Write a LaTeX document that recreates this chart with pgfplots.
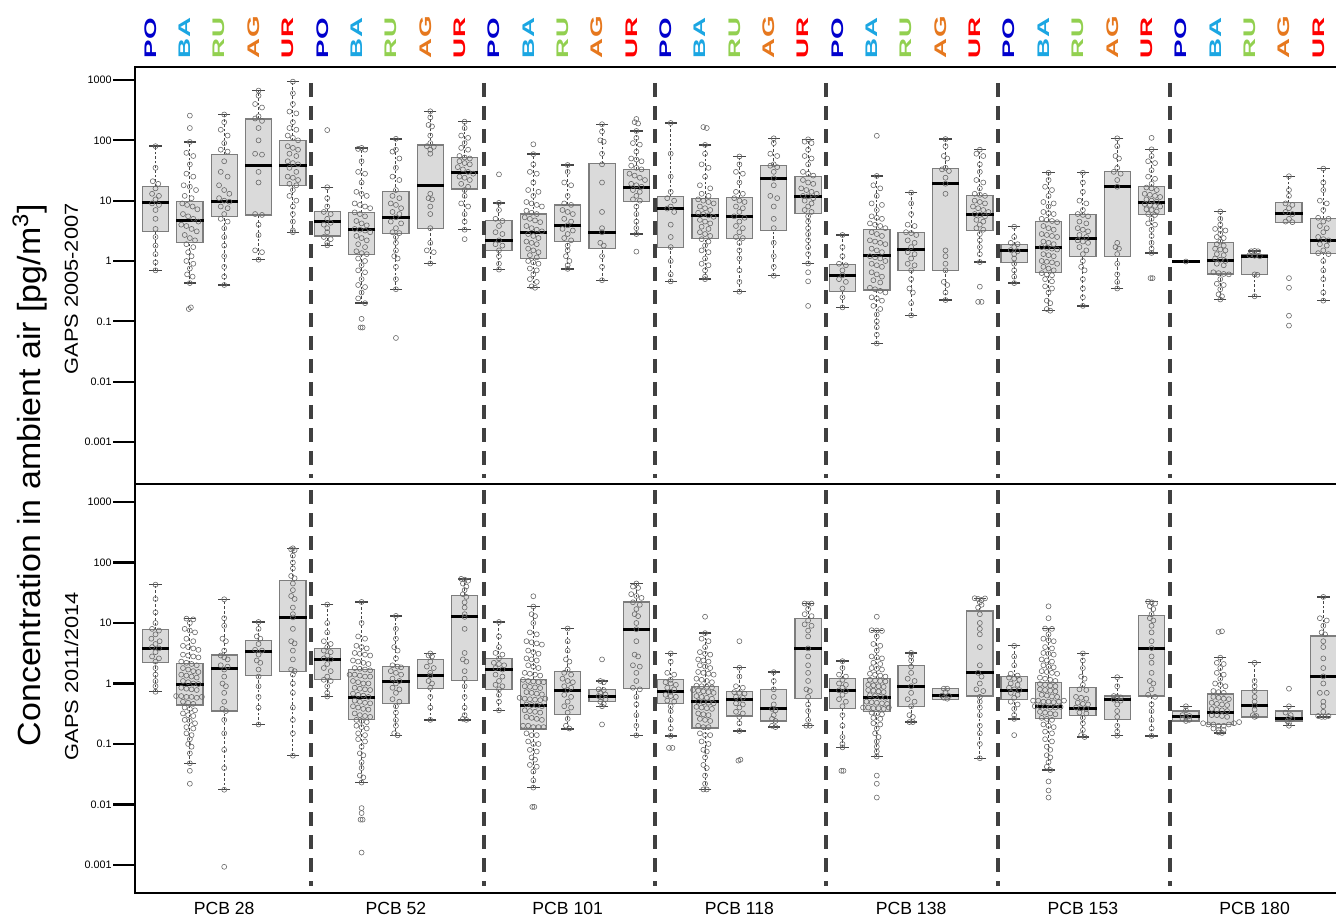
\documentclass[border=0pt]{standalone}
\usepackage{graphicx}
\usepackage{pgfplots}
\pgfplotsset{compat=1.18}
\usepackage{fontspec}
\setmainfont{Liberation Sans}
\setsansfont{Liberation Sans}
\definecolor{cPO}{RGB}{0,0,204}
\definecolor{cBA}{RGB}{27,166,226}
\definecolor{cRU}{RGB}{146,208,80}
\definecolor{cAG}{RGB}{230,120,30}
\definecolor{cUR}{RGB}{255,0,0}
\definecolor{boxfill}{RGB}{218,218,218}
\definecolor{boxedge}{RGB}{125,125,125}
\definecolor{whiskc}{RGB}{70,70,70}
\definecolor{ptcol}{RGB}{105,105,105}
\definecolor{sepcol}{RGB}{64,64,64}
\tikzset{mysep/.style={draw=sepcol, line width=2pt, dash pattern=on 7pt off 4.5pt}}

% one box: position, lower whisker, lower quartile, median, upper quartile, upper whisker
\newcommand{\bx}[6]{%
  \addplot[draw=whiskc, line width=0.5pt, dash pattern=on 1.3pt off 1pt, mark=none] coordinates {(#1,#2)(#1,#3)};
  \addplot[draw=whiskc, line width=0.5pt, dash pattern=on 1.3pt off 1pt, mark=none] coordinates {(#1,#5)(#1,#6)};
  \addplot[only marks, mark=-, mark size=3.1pt, mark options={draw=whiskc, line width=0.7pt}] coordinates {(#1,#2)(#1,#6)};
  \addplot[draw=boxedge, line width=13.7pt, mark=none] coordinates {(#1,#3)(#1,#5)};
  \addplot[draw=boxfill, line width=12.5pt, mark=none] coordinates {(#1,#3)(#1,#5)};
  \addplot[only marks, mark=-, mark size=6.85pt, mark options={draw=boxedge, line width=0.6pt}] coordinates {(#1,#3)(#1,#5)};
  \addplot[only marks, mark=-, mark size=6.85pt, mark options={draw=black, line width=1.5pt}] coordinates {(#1,#4)};
}
\newcommand{\catlab}[2]{\textcolor{#1}{\scalebox{1.65}[1]{#2}}}

\begin{document}
\begin{tikzpicture}
\path[use as bounding box] (0,0) rectangle (668pt,-460pt);

% ---------------- top panel: GAPS 2005-2007 ----------------
\begin{axis}[at={(67.5pt,-33.5pt)}, anchor=north west,
  scale only axis, width=600.5pt, height=208.5pt,
  xmin=-0.597, xmax=34.37, ymode=log, ymin=2.01e-4, ymax=1643,
  yminorticks=false, clip mode=individual,
  axis line style={draw=none},
  ytick={0.001,0.01,0.1,1,10,100,1000},
  yticklabels={0.001,0.01,0.1,1,10,100,1000},
  ytick pos=left, tick align=outside,
  ytick style={line width=1.1pt, black},
  major tick length=11pt,
  yticklabel style={font=\fontsize{5.4}{6}\selectfont, inner sep=0.5pt},
  xtick style={draw=none},
  xtick={0,...,34}, xticklabel pos=upper,
  xticklabel={\pgfmathparse{int(mod(round(\tick),5))}%
    \ifcase\pgfmathresult\relax\catlab{cPO}{PO}\or\catlab{cBA}{BA}\or\catlab{cRU}{RU}\or\catlab{cAG}{AG}\or\catlab{cUR}{UR}\fi},
  xticklabel style={rotate=90, anchor=west, inner sep=0pt, xshift=-6.7pt, yshift=2.5pt,
    font=\bfseries\fontsize{8.4}{9}\selectfont},
]
\bx{0}{0.70}{3.1}{9.4}{17.3}{80}
\bx{1}{0.43}{2.04}{4.7}{9.6}{94}
\bx{2}{0.40}{5.5}{9.6}{59}{268}
\bx{3}{1.05}{5.8}{37.6}{226}{668}
\bx{4}{3.0}{17.7}{39}{100}{940}
\bx{5}{1.82}{2.6}{4.5}{6.7}{16.7}
\bx{6}{0.20}{1.29}{3.3}{6.4}{75}
\bx{7}{0.34}{2.84}{5.3}{14.1}{106}
\bx{8}{0.91}{3.5}{17.7}{84}{303}
\bx{9}{3.3}{15.6}{29.6}{52}{204}
\bx{10}{0.72}{1.47}{2.17}{4.7}{9.2}
\bx{11}{0.36}{1.11}{3.0}{6.0}{59}
\bx{12}{0.74}{2.12}{3.9}{8.5}{39}
\bx{13}{0.48}{1.62}{3.0}{41.7}{185}
\bx{14}{2.8}{9.8}{16.7}{33}{143}
\bx{15}{0.46}{1.69}{7.4}{11.8}{194}
\bx{16}{0.50}{2.38}{5.7}{11}{84}
\bx{17}{0.31}{2.38}{5.5}{11.4}{54}
\bx{18}{0.57}{3.2}{23.5}{38}{108}
\bx{19}{0.91}{6.1}{11.8}{25.4}{104}
\bx{20}{0.17}{0.31}{0.58}{0.87}{2.7}
\bx{21}{0.043}{0.33}{1.21}{3.3}{25.7}
\bx{22}{0.126}{0.69}{1.56}{3.0}{13.6}
\bx{23}{0.225}{0.69}{19.1}{34}{105}
\bx{24}{0.96}{3.2}{5.8}{12.1}{70}
\bx{25}{0.43}{0.94}{1.52}{1.89}{3.7}
\bx{26}{0.15}{0.64}{1.69}{4.5}{29}
\bx{27}{0.18}{1.18}{2.4}{5.9}{29}
\bx{28}{0.35}{1.18}{16.9}{30.7}{108}
\bx{29}{1.36}{5.9}{9.4}{17.3}{71}
\bx{30}{0.98}{0.98}{0.98}{0.98}{0.98}
\bx{31}{0.23}{0.61}{1.01}{2.0}{6.6}
\bx{32}{0.26}{0.59}{1.2}{1.26}{1.47}
\bx{33}{4.4}{4.4}{6.2}{9.2}{25.4}
\bx{34}{0.22}{1.32}{2.2}{5.0}{34}
\addplot[only marks, mark=o, mark size=1.25pt, mark options={draw=ptcol, line width=0.3pt, fill=none}] coordinates {
(0,80)(0,35)(-0.08,21)(0.08,19)(0,16)(-0.1,13)(0.1,12)(0,10.5)(-0.1,9)(0.1,8.5)(0,7)(0,5)(0,3.4)(0,2.5)(0,1.8)(0,1.3)(0,0.95)(0,0.7)
(1,257)(1,160)(1,94)(0.9,62)(1.1,55)(1,40)(0.9,28)(1.1,25)(0.82,18)(1,17)(1.18,15)(0.85,12)(1.05,11)(0.78,9)(0.92,8.5)(1.08,8)(1.22,7.2)(0.8,6)(0.95,5.5)(1.1,5)(1.25,4.5)(0.75,4)(0.9,3.8)(1.05,3.4)(1.2,3.1)(0.85,2.7)(1,2.4)(1.15,2.2)(0.9,1.9)(1.1,1.7)(0.95,1.4)(1.05,1.2)(0.9,1)(1.1,0.9)(1,0.75)(0.92,0.6)(1.08,0.55)(1,0.43)(0.97,0.16)(1.03,0.17)
(2,268)(2,200)(1.9,150)(2.1,120)(2,90)(1.9,70)(2.1,65)(2,45)(1.9,30)(2.1,25)(1.85,18)(2,15)(2.15,13)(1.85,11)(2,10)(2.15,9.6)(1.9,8)(2.1,7.5)(2,6)(1.9,5)(2.1,4.5)(2,3.5)(2,2.5)(2,1.8)(2,1.2)(2,0.8)(2,0.55)(2,0.4)
(3,668)(3,550)(2.9,400)(3.1,350)(3,250)(2.9,230)(3.1,210)(3,160)(3,100)(2.9,60)(3.1,58)(3,30)(3,20)(2.9,6)(3.1,5.8)(3,4)(3,2.7)(2.9,1.5)(3.1,1.4)(3,1.05)
(4,940)(4,600)(4,400)(3.9,300)(4.1,280)(4,200)(3.9,160)(4.1,150)(3.85,120)(4,110)(4.15,100)(3.85,80)(4,75)(4.15,70)(3.9,60)(4.1,55)(3.85,45)(4,42)(4.15,40)(3.9,35)(4.1,30)(3.85,25)(4,24)(4.15,22)(3.9,19)(4.1,18)(4,15)(3.9,12)(4.1,10)(4,8)(4,6)(4,4.5)(4,3.2)(4,3)
(5,148)(5,16.7)(5,11)(5,8)(4.9,6.5)(5.1,6)(5,5)(5.1,4.3)(4.9,4)(5,3.5)(5,3)(4.9,2.5)(5.1,2.3)(5,2)(5,1.82)
(6,75)(5.9,72)(6.1,70)(6,45)(5.9,30)(6.1,28)(6,20)(5.85,14)(6,13)(6.15,12)(5.8,9)(5.95,8.5)(6.1,8)(6.25,7.5)(5.8,6.4)(5.95,6)(6.1,5.5)(5.85,4.6)(6,4.2)(6.15,3.9)(5.8,3.4)(5.95,3.3)(6.1,3.2)(6.25,3)(5.85,2.6)(6,2.4)(6.15,2.2)(5.9,1.9)(6.1,1.7)(5.85,1.45)(6,1.35)(6.15,1.3)(5.9,1.1)(6.1,1)(6,0.85)(5.9,0.7)(6.1,0.65)(6,0.5)(5.9,0.4)(6.1,0.37)(6,0.3)(5.9,0.24)(6.1,0.2)(6,0.11)(5.97,0.079)(6.03,0.079)
(7,106)(7,70)(6.9,65)(7.1,50)(7,35)(6.9,25)(7.1,22)(7,15)(6.9,12)(7.1,11)(6.85,9)(7,8.5)(7.15,7.5)(6.9,6.5)(7.1,6)(7,5.3)(6.85,4.5)(7.15,4.2)(7,3.5)(6.9,3)(7.1,2.9)(7,2.5)(7,2)(7,1.5)(6.95,1.2)(7.05,1.1)(7,0.8)(7,0.5)(7,0.34)(7,0.053)
(8,303)(8,240)(7.95,180)(8.05,170)(8,120)(8,90)(7.9,80)(8.1,78)(8,70)(8,60)(8,13)(7.95,11)(8.05,10.5)(8,8)(8,6)(8,3.5)(8,2)(7.9,1.5)(8.1,1.4)(8,0.91)
(9,204)(9,160)(8.9,120)(9.1,110)(9,90)(8.9,75)(9.1,70)(8.85,55)(9,52)(9.15,50)(8.85,45)(9,42)(9.15,40)(8.8,36)(8.95,33)(9.1,30)(9.25,28)(8.85,25)(9,24)(9.15,22)(8.9,19)(9.1,17)(9,15)(9,12)(8.9,9)(9.1,8)(9,6)(9,4.5)(9,3.3)(9,2.3)
(10,27.3)(10,9.2)(10,7)(9.9,5)(10.1,4.6)(10,3.8)(9.9,3)(10.1,2.8)(10,2.2)(9.9,1.9)(10.1,1.8)(10,1.5)(10,1.2)(10,0.9)(10,0.72)
(11,86)(11,59)(11,40)(10.9,30)(11.1,28)(11,20)(10.85,15)(11.15,14)(11,12)(10.8,9.5)(10.95,9)(11.1,8.5)(11.25,8)(10.8,6.8)(10.95,6.3)(11.1,6)(10.75,5.3)(10.9,5)(11.05,4.7)(11.2,4.4)(10.8,3.8)(10.95,3.5)(11.1,3.3)(11.25,3.1)(10.85,2.8)(11,2.6)(11.15,2.4)(10.8,2.1)(10.95,2)(11.1,1.9)(10.85,1.6)(11,1.5)(11.15,1.4)(10.9,1.25)(11.1,1.15)(10.85,1)(11,0.95)(11.15,0.9)(10.9,0.75)(11.1,0.7)(11,0.6)(10.9,0.5)(11.1,0.45)(10.95,0.38)(11.05,0.36)
(12,39)(12,30)(11.9,20)(12.1,18)(12,12)(11.9,9)(12.1,8.5)(11.85,7)(12,6.5)(12.15,6)(11.9,5)(12.1,4.5)(12,3.9)(11.85,3.4)(12.15,3.2)(12,2.8)(11.9,2.4)(12.1,2.2)(12,1.8)(12,1.5)(11.95,1.2)(12.05,1)(12,0.85)(12,0.74)
(13,185)(13,140)(12.95,100)(13.05,95)(13,60)(13,40)(13,20)(13,6.5)(13,3.5)(13,3)(12.95,2)(13.05,1.8)(13,1.2)(13,0.8)(13,0.48)
(14,226)(13.95,200)(14.05,190)(14,143)(14,110)(13.9,90)(14.1,85)(14,65)(13.85,50)(14,48)(14.15,45)(13.85,38)(14,35)(14.15,33)(13.8,28)(13.95,26)(14.1,24)(14.25,22)(13.85,19)(14,18)(14.15,17)(13.9,15)(14.1,14)(14,12)(13.9,10.5)(14.1,10)(14,8)(14,6)(14,4.5)(14,3.5)(14,2.8)(14,1.43)
(15,194)(15,60)(15,25)(15,14)(14.9,11)(15.1,10)(15,8)(14.9,7.4)(15.1,6.5)(15,4)(15,2.5)(15,1.7)(15,1)(15,0.6)(15,0.46)
(15.95,166)(16.05,160)(16,84)(16,60)(15.9,40)(16.1,35)(16,25)(15.85,18)(16.15,16)(15.9,13)(16.1,12)(15.8,10.5)(15.95,10)(16.1,9.5)(16.25,9)(15.85,8)(16,7.5)(16.15,7)(15.8,6.3)(15.95,6)(16.1,5.7)(16.25,5.4)(15.85,4.8)(16,4.5)(16.15,4.2)(15.9,3.7)(16.1,3.4)(15.85,3)(16,2.8)(16.15,2.6)(15.9,2.3)(16.1,2.1)(16,1.8)(15.9,1.5)(16.1,1.4)(16,1.1)(15.9,0.9)(16.1,0.85)(16,0.7)(16,0.55)(16,0.5)
(17,54)(17,40)(16.9,30)(17.1,28)(17,20)(16.9,14)(17.1,13)(16.85,11)(17,10)(17.15,9.5)(16.9,8)(17.1,7.5)(17,6.5)(16.85,5.5)(17.15,5.2)(17,4.5)(16.9,3.8)(17.1,3.5)(17,3)(16.9,2.5)(17.1,2.4)(17,2)(17,1.5)(17,1.1)(17,0.7)(17,0.45)(17,0.31)
(18,108)(18,90)(17.9,60)(18.1,55)(18,40)(17.9,38)(18.1,36)(18,30)(18,23.5)(18,18)(17.9,12)(18.1,11)(18,8)(18,5)(18,3.5)(18,2)(18,1.2)(18,0.8)(18,0.57)
(19,104)(18.9,95)(19.1,90)(19,70)(18.9,55)(19.1,50)(19,40)(18.85,30)(19,28)(19.15,26)(18.85,22)(19,20)(19.15,19)(18.8,16)(18.95,15)(19.1,14)(19.25,13)(18.85,12)(19,11.8)(19.15,11)(18.9,10)(19.1,9)(19,8)(18.9,7)(19.1,6.5)(19,5.5)(19,4.5)(19,3.5)(19,2.8)(19,2.2)(19,1.7)(19,1.3)(19,0.91)(19,0.65)(19,0.46)(19,0.18)
(20,2.7)(20,1.7)(20,1.2)(19.9,0.9)(20.1,0.85)(20,0.7)(20,0.58)(19.9,0.5)(20.1,0.45)(20,0.35)(20,0.25)(20,0.17)
(21,119)(21,25.7)(20.9,18)(21.1,16)(21,12)(20.85,9)(21.15,8.5)(21,7)(20.85,5.5)(21,5.2)(21.15,5)(20.8,4.2)(20.95,4)(21.1,3.8)(21.25,3.5)(20.85,3)(21,2.8)(21.15,2.6)(20.8,2.2)(20.95,2.1)(21.1,2)(21.25,1.9)(20.85,1.6)(21,1.5)(21.15,1.4)(20.8,1.2)(20.95,1.15)(21.1,1.1)(21.25,1)(20.85,0.9)(21,0.85)(21.15,0.8)(20.85,0.65)(21,0.6)(21.15,0.55)(20.9,0.48)(21.1,0.44)(20.8,0.36)(20.95,0.34)(21.1,0.32)(21.25,0.3)(20.85,0.25)(21,0.24)(21.15,0.22)(20.9,0.18)(21.1,0.16)(21,0.13)(21,0.1)(21,0.08)(21,0.06)(21,0.043)
(22,13.6)(22,9)(22,6)(21.9,4)(22.1,3.8)(21.85,3)(22,2.9)(22.15,2.7)(21.9,2.2)(22.1,2)(22,1.7)(21.9,1.4)(22.1,1.3)(22,1.1)(21.9,0.9)(22.1,0.85)(22,0.7)(22,0.5)(21.95,0.35)(22.05,0.3)(22,0.2)(22,0.126)
(23,105)(23,80)(22.95,55)(23.05,50)(23,35)(22.9,33)(23.1,31)(23,24)(23,19.1)(23,13)(23,1.5)(23,1.2)(23,0.9)(23,0.7)(22.95,0.45)(23.05,0.4)(23,0.3)(23,0.225)
(24,70)(23.9,60)(24.1,55)(24,40)(24,30)(23.9,22)(24.1,20)(24,16)(23.85,13)(24,12.5)(24.15,12)(23.85,10)(24,9.5)(24.15,9)(23.8,8)(23.95,7.5)(24.1,7)(24.25,6.5)(23.85,6)(24,5.8)(24.15,5.5)(23.9,4.8)(24.1,4.5)(24,4)(23.9,3.5)(24.1,3.3)(24,2.8)(24,2.2)(24,1.7)(24,1.3)(24,0.96)(24,0.375)(23.95,0.21)(24.05,0.21)
(25,3.7)(25,2.5)(24.9,2)(25.1,1.9)(25,1.7)(24.9,1.52)(25.1,1.45)(25,1.3)(25,1.1)(25,0.9)(25,0.7)(25,0.55)(25,0.43)
(26,29)(26,22)(25.9,17)(26.1,15)(26,12)(25.85,9.5)(26.15,9)(26,8)(25.85,6.5)(26,6.2)(26.15,6)(25.8,5)(25.95,4.8)(26.1,4.6)(26.25,4.4)(25.85,3.8)(26,3.5)(26.15,3.3)(25.8,2.8)(25.95,2.7)(26.1,2.6)(26.25,2.5)(25.85,2.1)(26,2)(26.15,1.9)(25.8,1.7)(25.95,1.65)(26.1,1.6)(26.25,1.55)(25.85,1.3)(26,1.25)(26.15,1.2)(25.8,1)(25.95,0.97)(26.1,0.95)(26.25,0.9)(25.85,0.8)(26,0.75)(26.15,0.7)(25.8,0.63)(25.95,0.6)(26.1,0.58)(25.9,0.5)(26.1,0.46)(25.9,0.38)(26.1,0.35)(26,0.3)(25.95,0.22)(26.05,0.2)(25.95,0.16)(26.05,0.15)
(27,29)(27,20)(27,14)(26.9,10)(27.1,9)(27,7)(26.85,6)(27,5.8)(27.15,5.5)(26.9,4.5)(27.1,4.2)(26.85,3.5)(27,3.3)(27.15,3.1)(26.9,2.7)(27.1,2.5)(26.85,2.2)(27,2.1)(27.15,2)(26.9,1.7)(27.1,1.5)(27,1.3)(27,1)(26.95,0.8)(27.05,0.7)(27,0.5)(27,0.35)(27,0.25)(27,0.18)
(28,108)(28,80)(27.95,55)(28.05,50)(28,35)(27.9,30)(28.1,28)(28,22)(28,17)(28,2)(27.95,1.7)(28.05,1.6)(28,1.3)(28,0.9)(28,0.6)(28,0.45)(28,0.35)
(29,110)(29,71)(29,55)(28.9,45)(29.1,42)(29,32)(28.9,25)(29.1,23)(29,19)(28.85,16.5)(29,16)(29.15,15)(28.8,13)(28.95,12.5)(29.1,12)(29.25,11.5)(28.85,10.5)(29,10)(29.15,9.6)(28.8,8.8)(28.95,8.5)(29.1,8.2)(29.25,8)(28.85,7.2)(29,7)(29.15,6.6)(28.9,6)(29.1,5.8)(29,5)(28.9,4.2)(29.1,4)(29,3.3)(29,2.6)(29,2)(29,1.6)(29,1.36)(28.97,0.52)(29.03,0.52)
(30,0.98)
(31,6.6)(31,5)(31,4)(30.85,3.4)(31,3.3)(31.15,3.2)(31,2.8)(30.9,2.5)(31.1,2.4)(31,2.1)(30.9,1.9)(31.1,1.8)(30.85,1.6)(31,1.55)(31.15,1.5)(30.9,1.3)(31.1,1.25)(30.85,1.1)(31,1.05)(31.15,1)(30.9,0.9)(31.1,0.85)(30.8,0.65)(30.95,0.63)(31.1,0.61)(31.25,0.6)(31,0.5)(30.9,0.42)(31.1,0.4)(31,0.34)(30.95,0.28)(31.05,0.26)(31,0.23)
(31.9,1.45)(32,1.47)(32.1,1.45)(31.85,1.25)(32,1.22)(32.15,1.2)(32,0.6)(32.08,0.59)(32,0.26)
(33,25.4)(33,15)(33,12)(32.9,9)(33.1,8.5)(33,7.5)(32.9,6.5)(33.1,6)(33,5)(32.9,4.5)(33.1,4.4)(33,0.52)(33,0.36)(33,0.124)(33,0.085)
(34,34)(34,20)(34,15)(33.9,10)(34.1,9)(34,7)(33.85,5.2)(34.15,5)(34,4.5)(33.9,3.8)(34.1,3.5)(34,3)(33.85,2.5)(34,2.3)(34.15,2.2)(33.9,1.9)(34.1,1.8)(34,1.5)(33.85,1.35)(34.15,1.3)(34,1)(34,0.7)(34,0.5)(34,0.3)(34,0.22)
};
\pgfplotsinvokeforeach{4.54,9.56,14.54,19.52,24.53,29.54}{
  \draw[mysep] ({axis cs:#1,1} |- {rel axis cs:0,0.962}) -- ({axis cs:#1,1} |- {rel axis cs:0,0.014});
}
\draw[line width=1.3pt] (rel axis cs:0,0) -- (rel axis cs:0,1) -- (rel axis cs:1,1);
\draw[line width=1.3pt] (rel axis cs:0,0) -- (rel axis cs:1,0);
\end{axis}

% ---------------- bottom panel: GAPS 2011/2014 ----------------
\begin{axis}[at={(67.5pt,-242pt)}, anchor=north west,
  scale only axis, width=600.5pt, height=204.5pt,
  xmin=-0.597, xmax=34.37, ymode=log, ymin=3.43e-4, ymax=1988,
  yminorticks=false, clip mode=individual,
  axis line style={draw=none},
  ytick={0.001,0.01,0.1,1,10,100,1000},
  yticklabels={0.001,0.01,0.1,1,10,100,1000},
  ytick pos=left, tick align=outside,
  ytick style={line width=1.1pt, black},
  major tick length=11pt,
  yticklabel style={font=\fontsize{5.4}{6}\selectfont, inner sep=0.5pt},
  xtick style={draw=none},
  xtick={2,7,12,17,22,27,32},
  xticklabels={PCB 28,PCB 52,PCB 101,PCB 118,PCB 138,PCB 153,PCB 180},
  xticklabel style={font=\fontsize{8.8}{9}\selectfont, inner sep=1pt, yshift=7.8pt},
]
\bx{0}{0.73}{2.23}{3.85}{7.7}{43}
\bx{1}{0.048}{0.44}{0.98}{2.12}{11.8}
\bx{2}{0.0175}{0.35}{1.8}{2.95}{24.7}
\bx{3}{0.21}{1.34}{3.35}{5.1}{10.4}
\bx{4}{0.064}{1.56}{12.4}{50}{172}
\bx{5}{0.61}{1.18}{2.53}{3.76}{20.2}
\bx{6}{0.023}{0.25}{0.58}{1.71}{22.3}
\bx{7}{0.139}{0.46}{1.08}{1.89}{13.1}
\bx{8}{0.25}{0.82}{1.36}{2.47}{3.14}
\bx{9}{0.25}{1.12}{12.6}{28.8}{53.7}
\bx{10}{0.36}{0.80}{1.73}{2.6}{10.4}
\bx{11}{0.019}{0.177}{0.43}{1.16}{18.7}
\bx{12}{0.177}{0.31}{0.77}{1.58}{8.1}
\bx{13}{0.42}{0.50}{0.62}{0.79}{1.1}
\bx{14}{0.139}{0.83}{7.9}{22.3}{45}
\bx{15}{0.136}{0.47}{0.73}{1.15}{3.14}
\bx{16}{0.0177}{0.184}{0.51}{0.90}{6.8}
\bx{17}{0.164}{0.29}{0.54}{0.73}{1.82}
\bx{18}{0.19}{0.24}{0.38}{0.79}{1.54}
\bx{19}{0.2}{0.56}{3.8}{11.8}{21}
\bx{20}{0.088}{0.39}{0.77}{1.22}{2.34}
\bx{21}{0.062}{0.34}{0.58}{1.22}{7.6}
\bx{22}{0.23}{0.42}{0.89}{1.96}{3.2}
\bx{23}{0.54}{0.54}{0.63}{0.82}{0.82}
\bx{24}{0.058}{0.62}{1.52}{15.8}{25.7}
\bx{25}{0.26}{0.55}{0.78}{1.29}{4.2}
\bx{26}{0.037}{0.26}{0.42}{1.05}{8.1}
\bx{27}{0.13}{0.30}{0.39}{0.85}{3.14}
\bx{28}{0.137}{0.25}{0.54}{0.62}{1.27}
\bx{29}{0.136}{0.62}{3.85}{13.4}{22.6}
\bx{30}{0.24}{0.24}{0.28}{0.35}{0.42}
\bx{31}{0.152}{0.21}{0.33}{0.67}{2.67}
\bx{32}{0.28}{0.28}{0.43}{0.77}{2.2}
\bx{33}{0.20}{0.24}{0.26}{0.35}{0.42}
\bx{34}{0.28}{0.31}{1.31}{6.1}{27}
\addplot[only marks, mark=o, mark size=1.25pt, mark options={draw=ptcol, line width=0.3pt, fill=none}] coordinates {
(0,43)(0,25)(0,15)(0,10)(-0.1,8)(0.1,7.5)(0,6.5)(-0.12,5.5)(0.12,5)(0,4.5)(-0.1,4)(0.1,3.8)(0,3.3)(-0.1,2.8)(0.1,2.6)(0,2.3)(0,1.8)(0,1.4)(0,1.1)(0,0.9)(0,0.73)
(0.9,11.8)(1.1,11.5)(1,10)(0.85,8)(1,7.5)(1.15,7)(0.9,5.5)(1.1,5)(0.8,4.2)(0.95,4)(1.1,3.8)(1.25,3.6)(0.8,3)(0.95,2.9)(1.1,2.8)(1.25,2.7)(0.75,2.3)(0.9,2.2)(1.05,2.1)(1.2,2)(0.8,1.8)(0.95,1.7)(1.1,1.6)(1.25,1.55)(0.75,1.4)(0.9,1.35)(1.05,1.3)(1.2,1.25)(0.8,1.1)(0.95,1.05)(1.1,1)(1.25,0.98)(0.75,0.85)(0.9,0.82)(1.05,0.8)(1.2,0.78)(0.6,0.62)(0.75,0.62)(0.9,0.6)(1.05,0.6)(1.2,0.58)(1.35,0.6)(0.8,0.5)(0.95,0.48)(1.1,0.46)(0.85,0.4)(1,0.38)(1.15,0.36)(0.8,0.32)(0.95,0.3)(1.1,0.29)(0.85,0.25)(1,0.24)(1.15,0.22)(0.9,0.19)(1.1,0.18)(0.9,0.15)(1.05,0.14)(1,0.12)(0.95,0.1)(1.05,0.09)(1,0.07)(1,0.048)(1,0.036)(1,0.022)
(2,24.7)(2,12)(2,9)(1.95,5.5)(2.05,5)(2,3.5)(1.9,2.9)(2,2.7)(2.1,2.5)(1.9,2)(2.1,1.9)(2,1.7)(2,1.3)(1.95,1)(2.05,0.9)(2,0.7)(2,0.5)(1.95,0.38)(2.05,0.35)(2,0.25)(2,0.15)(2,0.08)(2,0.04)(2,0.0175)(2,0.00093)
(3,10.4)(3,8)(2.95,6)(3.05,5.5)(3,4.5)(2.9,3.6)(3.1,3.5)(3,3)(2.95,2.4)(3.05,2.2)(3,1.7)(3,1.3)(3,0.9)(3,0.6)(3,0.4)(3,0.21)
(4,172)(3.95,165)(4.05,160)(4,130)(4,100)(4,80)(3.95,60)(4.05,55)(4,45)(4,35)(3.95,28)(4.05,25)(4,18)(4,14)(4,12.4)(4,8)(3.95,5)(4.05,4.6)(4,3.5)(4,2.5)(3.95,1.7)(4.05,1.6)(4,1.4)(4,1)(4,0.7)(4,0.4)(4,0.25)(4,0.15)(4,0.064)
(5,20.2)(5,10)(5,7)(4.9,5)(5.1,4.5)(5,4)(4.9,3.5)(5.1,3.3)(5,2.9)(4.9,2.6)(5.1,2.5)(5,2.1)(4.9,1.8)(5.1,1.6)(5,1.3)(4.9,1.15)(5.1,1.1)(5,0.9)(5,0.7)(5,0.61)
(6,22.3)(6,10)(5.9,6)(6.1,5.5)(5.85,4.2)(6,4)(6.15,3.8)(5.8,3.2)(5.95,3.1)(6.1,3)(6.25,2.9)(5.75,2.4)(5.9,2.3)(6.05,2.2)(6.2,2.1)(5.8,1.8)(5.95,1.75)(6.1,1.7)(6.25,1.65)(5.65,1.4)(5.8,1.4)(5.95,1.35)(6.1,1.3)(6.25,1.3)(5.75,1.1)(5.9,1.05)(6.05,1)(6.2,1)(5.8,0.85)(5.95,0.82)(6.1,0.8)(6.25,0.78)(5.75,0.68)(5.9,0.65)(6.05,0.63)(6.2,0.6)(5.8,0.52)(5.95,0.5)(6.1,0.48)(6.25,0.47)(5.75,0.42)(5.9,0.4)(6.05,0.38)(6.2,0.37)(5.8,0.32)(5.95,0.3)(6.1,0.29)(6.25,0.28)(5.85,0.25)(6,0.24)(6.15,0.23)(5.85,0.2)(6,0.19)(6.15,0.18)(5.9,0.15)(6.1,0.14)(5.9,0.12)(6.1,0.11)(6,0.09)(5.95,0.07)(6.05,0.065)(6,0.05)(6,0.04)(5.95,0.03)(6.05,0.028)(6,0.023)(6,0.0087)(6,0.0072)(5.97,0.0056)(6.03,0.0056)(6,0.0016)
(7,13.1)(7,8)(7,5.5)(6.95,4)(7.05,3.5)(7,2.6)(6.9,2)(7.05,1.9)(7.15,1.85)(6.85,1.6)(7,1.5)(7.15,1.4)(6.9,1.2)(7.1,1.1)(7,1)(6.9,0.85)(7.1,0.8)(7,0.7)(6.9,0.55)(7.1,0.5)(7,0.42)(7,0.33)(7,0.25)(7,0.2)(6.95,0.15)(7.05,0.139)
(8,3.14)(7.95,2.9)(8.05,2.8)(8,2.3)(7.9,1.9)(8.1,1.8)(8,1.5)(8,1.36)(7.95,1.1)(8.05,1)(8,0.85)(8,0.6)(8,0.4)(8,0.25)
(8.9,53.7)(9,52)(9.1,50)(8.95,45)(9.05,40)(9,35)(8.95,30)(9.05,27)(9,22)(9,18)(9,14)(9,12.6)(9,8)(9,3.2)(8.95,2.5)(9.05,2.3)(9,1.6)(9,1.2)(9,0.9)(9,0.6)(9,0.4)(9,0.3)(8.95,0.26)(9.05,0.25)
(10,10.4)(10,6)(10,4)(9.9,3.2)(10.1,3)(10,2.6)(9.85,2.2)(10,2.1)(10.15,2)(9.9,1.8)(10.1,1.7)(9.9,1.4)(10.1,1.3)(10,1.1)(9.9,0.95)(10.1,0.9)(10,0.8)(10,0.65)(10,0.5)(10,0.36)
(11,27.7)(11,18.7)(10.95,14)(11.05,13)(11,10)(10.9,7)(11.1,6.5)(10.8,5)(10.95,4.8)(11.1,4.6)(11.25,4.4)(10.85,3.5)(11,3.3)(11.15,3.1)(10.8,2.6)(10.95,2.5)(11.1,2.4)(10.85,2)(11,1.9)(11.15,1.8)(10.75,1.5)(10.9,1.45)(11.05,1.4)(11.2,1.35)(10.7,1.15)(10.85,1.1)(11,1.08)(11.15,1.05)(11.3,1.05)(10.75,0.9)(10.9,0.88)(11.05,0.86)(11.2,0.84)(10.8,0.72)(10.95,0.7)(11.1,0.68)(11.25,0.66)(10.6,0.58)(10.75,0.56)(10.9,0.55)(11.05,0.54)(11.2,0.53)(11.35,0.56)(10.8,0.45)(10.95,0.44)(11.1,0.43)(11.25,0.42)(10.75,0.36)(10.9,0.35)(11.05,0.34)(11.2,0.33)(10.8,0.28)(10.95,0.27)(11.1,0.26)(11.25,0.25)(10.7,0.2)(10.85,0.2)(11,0.19)(11.15,0.19)(11.3,0.19)(10.8,0.15)(10.95,0.14)(11.1,0.14)(10.85,0.11)(11,0.1)(11.15,0.1)(10.9,0.08)(11.1,0.075)(10.95,0.06)(11.05,0.055)(10.9,0.045)(11.1,0.042)(11,0.035)(11,0.025)(11,0.019)(10.97,0.0091)(11.03,0.0091)
(12,8.1)(12,5)(12,3.5)(11.95,2.5)(12.05,2.3)(12,1.7)(11.9,1.5)(12.1,1.4)(11.85,1.2)(12,1.1)(12.15,1.05)(11.9,0.9)(12.1,0.85)(12,0.78)(11.9,0.65)(12.1,0.6)(12,0.5)(11.9,0.42)(12.1,0.4)(12,0.33)(12,0.26)(11.95,0.2)(12.05,0.18)
(13,2.5)(12.95,1.1)(13.05,1.05)(12.9,0.8)(13.05,0.78)(12.95,0.7)(13.1,0.66)(12.9,0.62)(13,0.6)(13.1,0.55)(12.95,0.5)(13.05,0.46)(13,0.42)(13,0.21)
(14,45)(13.9,40)(14.05,38)(13.85,30)(14,28)(14.15,26)(13.9,22)(14.1,20)(14,17)(13.95,14)(14.05,13)(14,10)(14,7.9)(14,5)(13.95,3)(14.05,2.8)(13.9,2)(14.1,1.9)(14,1.5)(14,1.1)(13.9,0.85)(14.1,0.8)(14,0.6)(14,0.45)(14,0.3)(14,0.2)(14,0.139)
(15,3.14)(15,2.3)(14.9,1.5)(15.1,1.4)(15,1.15)(14.85,1.05)(15,1)(15.15,0.95)(14.9,0.85)(15.1,0.8)(15,0.73)(14.85,0.65)(15,0.62)(15.15,0.6)(14.9,0.52)(15.1,0.5)(15,0.42)(15,0.35)(15,0.25)(15,0.18)(15,0.136)(14.95,0.086)(15.05,0.086)
(16,12.7)(16,6.8)(15.9,5.5)(16.1,5)(16,4)(15.85,3.3)(16,3.1)(16.15,3)(15.8,2.5)(15.95,2.4)(16.1,2.3)(15.85,2)(16,1.9)(16.15,1.8)(15.8,1.55)(15.95,1.5)(16.1,1.45)(16.25,1.4)(15.75,1.2)(15.9,1.15)(16.05,1.1)(16.2,1.05)(15.75,0.92)(15.9,0.9)(16.05,0.88)(16.2,0.86)(15.65,0.78)(15.8,0.76)(15.95,0.74)(16.1,0.72)(16.25,0.7)(15.75,0.62)(15.9,0.6)(16.05,0.58)(16.2,0.56)(15.8,0.5)(15.95,0.49)(16.1,0.48)(16.25,0.47)(15.75,0.41)(15.9,0.4)(16.05,0.39)(16.2,0.38)(15.8,0.32)(15.95,0.31)(16.1,0.3)(15.85,0.26)(16,0.25)(16.15,0.24)(15.8,0.2)(15.95,0.19)(16.1,0.19)(15.85,0.15)(16,0.14)(16.15,0.14)(15.9,0.11)(16.1,0.1)(15.95,0.08)(16.05,0.075)(16,0.06)(15.95,0.045)(16.05,0.04)(16,0.03)(16,0.022)(15.95,0.0177)(16.05,0.0177)
(17,5)(17,1.82)(17,1.3)(16.9,0.9)(17.1,0.85)(16.85,0.72)(17,0.7)(17.15,0.68)(16.9,0.6)(17.1,0.58)(17,0.54)(16.9,0.47)(17.1,0.45)(17,0.4)(16.9,0.34)(17.1,0.32)(17,0.28)(17,0.22)(17,0.164)(16.97,0.053)(17.03,0.055)
(18,1.54)(18,1.1)(18,0.8)(18,0.6)(18,0.45)(17.95,0.38)(18.05,0.36)(18,0.3)(17.95,0.26)(18.05,0.24)(17.95,0.2)(18.05,0.19)
(18.9,21)(19,20.5)(19.1,21)(19,17)(18.9,14)(19.1,13)(19,11)(18.9,9.5)(19.1,9)(19,7.5)(19,6)(19,3.8)(19,2.8)(19,2)(19,1.5)(19,1.1)(18.95,0.8)(19.05,0.75)(19,0.6)(19,0.45)(19,0.35)(19,0.25)(18.95,0.2)(19.05,0.2)
(20,2.34)(20,1.8)(19.9,1.4)(20.1,1.3)(20,1.15)(19.9,1)(20.1,0.95)(20,0.85)(19.9,0.77)(20.1,0.75)(20,0.65)(19.9,0.55)(20.1,0.5)(20,0.42)(20,0.3)(20,0.2)(20,0.13)(20,0.1)(20,0.088)(19.97,0.036)(20.03,0.036)
(21,12.7)(20.85,7.6)(21,7.5)(21.15,7.4)(21,6)(20.9,4.5)(21.1,4.2)(21,3.5)(20.85,2.8)(21,2.7)(21.15,2.6)(20.9,2.2)(21.1,2.1)(20.85,1.8)(21,1.75)(21.15,1.7)(20.8,1.45)(20.95,1.4)(21.1,1.35)(21.25,1.3)(20.8,1.15)(20.95,1.12)(21.1,1.1)(21.25,1.08)(20.75,0.95)(20.9,0.93)(21.05,0.9)(21.2,0.88)(20.75,0.78)(20.9,0.76)(21.05,0.74)(21.2,0.72)(20.8,0.64)(20.95,0.62)(21.1,0.6)(21.25,0.58)(20.7,0.5)(20.85,0.49)(21,0.48)(21.15,0.47)(21.3,0.46)(20.6,0.4)(20.75,0.4)(20.9,0.39)(21.05,0.39)(21.2,0.38)(21.35,0.4)(20.85,0.33)(21,0.32)(21.15,0.31)(20.9,0.27)(21.1,0.26)(20.9,0.22)(21.1,0.21)(21,0.18)(20.95,0.15)(21.05,0.13)(21,0.11)(21,0.09)(21,0.075)(21,0.062)(21,0.03)(21,0.022)(21,0.013)
(22,3.2)(22,2.8)(22,2.4)(22,1.9)(22,1.5)(21.9,1.2)(22.1,1.1)(22,0.9)(22,0.7)(21.9,0.55)(22.1,0.5)(22,0.42)(21.95,0.3)(22.05,0.28)(21.95,0.23)(22.05,0.23)
(22.95,0.82)(23.05,0.82)(23,0.72)(22.9,0.63)(23.1,0.62)(22.95,0.58)(23.05,0.56)
(23.85,25.7)(23.95,25)(24.05,24)(24.15,25.5)(24,22)(24.05,20)(23.95,18)(24,14)(24,10)(24,8)(24,6.5)(24,4)(24,2)(23.95,1.5)(24.05,1.3)(24,1)(23.9,0.8)(24.1,0.75)(24,0.6)(24,0.5)(24,0.4)(24,0.3)(24,0.2)(24,0.15)(24,0.1)(24,0.058)
(25,4.2)(25,2.8)(25,2)(24.9,1.45)(25.1,1.35)(24.85,1.25)(25,1.2)(25.15,1.15)(24.9,1)(25.1,0.95)(24.85,0.85)(25,0.8)(25.15,0.78)(24.9,0.7)(25.1,0.65)(25,0.58)(24.9,0.5)(25.1,0.45)(25,0.38)(25,0.3)(25,0.26)(25,0.14)
(26,18.9)(26,12)(25.9,8.1)(26.1,8)(26,6.5)(25.85,5.5)(26,5.2)(26.15,5)(25.9,4)(26.1,3.8)(25.85,3.2)(26,3.1)(26.15,3)(25.8,2.5)(25.95,2.4)(26.1,2.3)(25.85,2)(26,1.9)(26.15,1.85)(25.8,1.6)(25.95,1.55)(26.1,1.5)(26.25,1.45)(25.75,1.25)(25.9,1.2)(26.05,1.15)(26.2,1.1)(25.75,0.98)(25.9,0.95)(26.05,0.92)(26.2,0.9)(25.75,0.8)(25.9,0.78)(26.05,0.76)(26.2,0.74)(25.8,0.65)(25.95,0.63)(26.1,0.61)(26.25,0.6)(25.55,0.52)(25.7,0.52)(25.85,0.5)(26,0.5)(26.15,0.49)(26.3,0.5)(26.45,0.52)(25.6,0.42)(25.75,0.42)(25.9,0.41)(26.05,0.4)(26.2,0.4)(26.35,0.41)(25.75,0.34)(25.9,0.33)(26.05,0.32)(26.2,0.31)(25.8,0.27)(25.95,0.26)(26.1,0.25)(25.85,0.21)(26,0.2)(26.15,0.19)(25.9,0.16)(26.1,0.15)(25.9,0.12)(26.1,0.11)(25.95,0.09)(26.05,0.08)(25.95,0.065)(26.05,0.06)(26,0.05)(25.95,0.042)(26.05,0.037)(26,0.024)(26,0.017)(26,0.013)
(27,3.14)(27,2.4)(27,1.8)(26.95,1.3)(27.05,1.2)(27,0.95)(26.9,0.8)(27.1,0.78)(26.8,0.6)(26.95,0.58)(27.1,0.56)(26.85,0.48)(27,0.46)(27.15,0.45)(26.8,0.4)(26.95,0.39)(27.1,0.38)(26.9,0.33)(27.1,0.32)(27,0.27)(27,0.22)(27,0.17)(26.95,0.14)(27.05,0.13)
(28,1.27)(28,0.9)(27.9,0.62)(28,0.6)(28.1,0.59)(27.9,0.54)(28.1,0.52)(28,0.45)(28,0.35)(28,0.28)(28,0.2)(28,0.16)(28,0.137)
(28.9,22.6)(29,22)(29.1,21)(28.95,19)(29.05,17)(29,14)(28.95,12)(29.05,11)(29,9)(29,7)(29,5)(29,3.85)(29,2.8)(29,2.2)(29,1.5)(28.95,1.1)(29.05,1)(29,0.8)(28.9,0.65)(29.1,0.6)(29,0.45)(29,0.35)(29,0.25)(29,0.18)(29,0.136)
(30,0.42)(30,0.36)(29.9,0.3)(30.1,0.29)(30,0.28)(29.9,0.26)(30.1,0.25)(30,0.24)
(30.95,7.1)(31.05,7.3)(31,2.67)(30.9,2.2)(31.1,2.1)(31,1.8)(30.9,1.5)(31.1,1.4)(31,1.2)(30.85,1)(31,0.95)(31.15,0.9)(30.8,0.75)(30.95,0.72)(31.1,0.7)(30.8,0.6)(30.95,0.58)(31.1,0.56)(31.25,0.55)(30.75,0.48)(30.9,0.46)(31.05,0.45)(31.2,0.44)(30.75,0.38)(30.9,0.37)(31.05,0.36)(31.2,0.35)(30.75,0.3)(30.9,0.3)(31.05,0.29)(31.2,0.28)(30.5,0.22)(30.65,0.21)(30.8,0.21)(30.95,0.2)(31.1,0.2)(31.25,0.21)(31.4,0.22)(31.55,0.23)(30.8,0.18)(30.95,0.17)(31.1,0.17)(30.95,0.155)(31.05,0.152)
(32,2.2)(32,1.1)(32,0.9)(32,0.75)(32,0.6)(32,0.5)(32,0.43)(32,0.37)(31.95,0.3)(32.05,0.29)(32,0.28)
(33,0.82)(33,0.42)(32.9,0.33)(33.05,0.3)(33,0.27)(33.1,0.26)(32.95,0.24)(33,0.22)(33,0.2)
(34,27)(33.9,12)(34.1,11)(34,9)(33.95,7)(34.05,6.5)(34,5)(34,4)(34,2.6)(34,1.8)(34,1.31)(34,1)(33.9,0.7)(34.1,0.7)(34,0.5)(34,0.42)(34,0.34)(33.85,0.29)(33.95,0.28)(34.05,0.28)(34.15,0.29)
};
\pgfplotsinvokeforeach{4.54,9.56,14.54,19.52,24.53,29.54}{
  \draw[mysep] ({axis cs:#1,1} |- {rel axis cs:0,0.985}) -- ({axis cs:#1,1} |- {rel axis cs:0,0.017});
}
\draw[line width=1.3pt] (rel axis cs:0,1) -- (rel axis cs:0,0) -- (rel axis cs:1,0);
\draw[line width=1.3pt] (rel axis cs:0,1) -- (rel axis cs:1,1);
\end{axis}

% ---------------- outer labels ----------------
\node[rotate=90, font=\fontsize{16}{16}\selectfont] at (15pt,-237.5pt)
  {\scalebox{1.06}[1]{Concentration in ambient air [pg/m\textsuperscript{3}]}};
\node[rotate=90, font=\fontsize{9.4}{10}\selectfont] at (35.75pt,-144.5pt) {\scalebox{1.16}[1]{GAPS 2005-2007}};
\node[rotate=90, font=\fontsize{9.4}{10}\selectfont] at (35.75pt,-338pt) {\scalebox{1.16}[1]{GAPS 2011/2014}};
\end{tikzpicture}
\end{document}
